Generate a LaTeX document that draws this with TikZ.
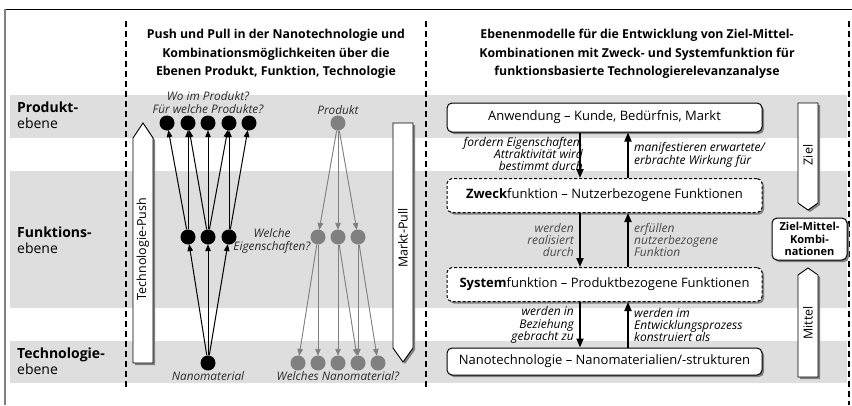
\documentclass[tikz,border=0pt]{standalone}
\usepackage{fontspec}
\setmainfont{Open Sans}
\usetikzlibrary{arrows.meta,shadows}
\definecolor{bandgray}{HTML}{DEDEDE}
\definecolor{dotgray}{HTML}{808080}
\definecolor{shadowgray}{HTML}{808080}
\definecolor{lblgray}{HTML}{2A2A2A}
\definecolor{midgray}{HTML}{4A4A4A}
\begin{document}
\begin{tikzpicture}[x=1pt,y=-1pt,
  dline/.style={line width=1.8pt,dash pattern=on 6pt off 4pt},
  lvl/.style={font=\fontsize{14}{16}\selectfont,align=left,anchor=west,inner sep=0pt},
  hdr/.style={font=\bfseries\fontsize{12.3}{18.5}\selectfont,align=center,inner sep=0pt},
  bdot/.style={circle,fill=black,minimum size=15pt,inner sep=0pt},
  gdot/.style={circle,fill=dotgray,minimum size=15pt,inner sep=0pt},
  barr/.style={-{Triangle[length=7pt,width=5.5pt]},line width=1pt,shorten >=-0.5pt},
  garr/.style={-{Triangle[length=7pt,width=5.5pt]},line width=0.9pt,draw=dotgray,fill=dotgray,shorten >=-0.5pt},
  lbl/.style={font=\itshape\fontsize{11.8}{12.5}\selectfont,text=lblgray,inner sep=0pt,align=center},
  blockarrow/.style={fill=white,draw=black,line width=0.9pt,drop shadow={shadow xshift=2pt,shadow yshift=-2pt,fill=shadowgray,opacity=1}},
  vtext/.style={rotate=90,font=\fontsize{12.5}{14}\selectfont,inner sep=0pt},
  box/.style={draw=black,line width=1pt,rounded corners=5pt,fill=white,minimum width=315pt,
     font=\fontsize{13}{15}\selectfont,inner sep=0pt,
     drop shadow={shadow xshift=2pt,shadow yshift=-2pt,fill=shadowgray,opacity=1}},
  dbox/.style={box,dash pattern=on 3pt off 2pt},
  bigarr/.style={-{Triangle[length=9pt,width=7pt]},line width=1.8pt},
  ilbl/.style={font=\itshape\fontsize{12}{12.4}\selectfont,inner sep=0pt},
  zmbox/.style={draw=black,line width=1pt,rounded corners=5pt,fill=white,minimum width=75pt,minimum height=42pt,
     font=\bfseries\fontsize{11}{12.5}\selectfont,align=center,inner sep=0pt,
     drop shadow={shadow xshift=2pt,shadow yshift=-2pt,fill=shadowgray,opacity=1}}
]
\useasboundingbox (0,0) rectangle (852,405);
% bands
\fill[bandgray] (10,95) rectangle (847,138);
\fill[bandgray] (10,171) rectangle (847,308);
\fill[bandgray] (10,341) rectangle (847,383);
% frame
\draw[line width=1pt] (5,9) -- (852,9);
\draw[shadowgray,line width=1.5pt] (5,9) -- (5,405);
% dashed separators
\draw[dline] (126,21) -- (126,389);
\draw[dline] (426,21) -- (426,389);
\draw[dline] (849,21) -- (849,405);
% level labels
\node[lvl] (lp) at (17,115.5) {\textbf{Produkt-}\\ebene};
\node[lvl] (lf) at (17,240) {\textbf{Funktions-}\\ebene};
\node[lvl] (lt) at (17,361) {\textbf{Technologie-}\\ebene};
% headers
\node[hdr] (h1) at (276,54) {Push und Pull in der Nanotechnologie und\\Kombinationsmöglichkeiten über die\\Ebenen Produkt, Funktion, Technologie};
\node[hdr] (h2) at (637,54) {Ebenenmodelle für die Entwicklung von Ziel-Mittel-\\Kombinationen mit Zweck- und Systemfunktion für\\funktionsbasierte Technologierelevanzanalyse};
% push block arrow
\path[blockarrow] (133,363) -- (153,363) -- (153,138) -- (143,123) -- (133,138) -- cycle;
\node[vtext] (tpush) at (143,249) {Technologie-Push};
% pull block arrow
\path[blockarrow] (393,123) -- (413,123) -- (413,348) -- (403,362) -- (393,348) -- cycle;
\node[vtext] (mpull) at (403,238) {Markt-Pull};
% push nodes
\node[bdot] (pt1) at (167,123) {};
\node[bdot] (pt2) at (188,123) {};
\node[bdot] (pt3) at (208,123) {};
\node[bdot] (pt4) at (229,123) {};
\node[bdot] (pt5) at (249,123) {};
\node[bdot] (pm1) at (188,237) {};
\node[bdot] (pm2) at (208,237) {};
\node[bdot] (pm3) at (229,237) {};
\node[bdot] (pb) at (208,363) {};
\draw[barr] (pb) -- (pm1);
\draw[barr] (pb) -- (pm2);
\draw[barr] (pb) -- (pm3);
\draw[barr] (pm1) -- (pt1);
\draw[barr] (pm1) -- (pt2);
\draw[barr] (pm2) -- (pt2);
\draw[barr] (pm2) -- (pt3);
\draw[barr] (pm2) -- (pt4);
\draw[barr] (pm3) -- (pt4);
\draw[barr] (pm3) -- (pt5);
% pull nodes
\node[gdot] (qt) at (338,123) {};
\node[gdot] (qm1) at (318,237) {};
\node[gdot] (qm2) at (338,237) {};
\node[gdot] (qm3) at (358,237) {};
\node[gdot] (qb1) at (298,363) {};
\node[gdot] (qb2) at (318,363) {};
\node[gdot] (qb3) at (338,363) {};
\node[gdot] (qb4) at (358,363) {};
\node[gdot] (qb5) at (378,363) {};
\draw[garr] (qt) -- (qm1);
\draw[garr] (qt) -- (qm2);
\draw[garr] (qt) -- (qm3);
\draw[garr] (qm1) -- (qb1);
\draw[garr] (qm1) -- (qb2);
\draw[garr] (qm2) -- (qb3);
\draw[garr] (qm2) -- (qb4);
\draw[garr] (qm3) -- (qb4);
\draw[garr] (qm3) -- (qb5);
% node labels
\node[lbl] (l1) at (208,96) {Wo im Produkt?};
\node[lbl] (l2) at (208,109) {Für welche Produkte?};
\node[lbl] (l3) at (338,110) {Produkt};
\node[lbl] (l4) at (272,241) {Welche\\Eigenschaften?};
\node[lbl] (l5) at (208,376) {Nanomaterial};
\node[lbl] (l6) at (338,376) {Welches Nanomaterial?};
% right boxes
\node[box,minimum height=29pt] (b1) at (604.5,117.5) {Anwendung – Kunde, Bedürfnis, Markt};
\node[dbox,minimum height=34pt] (b2) at (604.5,195.5) {\textbf{Zweck}funktion – Nutzerbezogene Funktionen};
\node[dbox,minimum height=34pt] (b3) at (604.5,284.5) {\textbf{System}funktion – Produktbezogene Funktionen};
\node[box,minimum height=27pt] (b4) at (604.5,361.5) {Nanotechnologie – Nanomaterialien/-strukturen};
\coordinate (xd) at (580,0);
\coordinate (xu) at (628,0);
\draw[bigarr] (b1.south -| xd) -- (b2.north -| xd);
\draw[bigarr] (b2.north -| xu) -- (b1.south -| xu);
\draw[bigarr] (b2.south -| xd) -- (b3.north -| xd);
\draw[bigarr] (b3.north -| xu) -- (b2.south -| xu);
\draw[bigarr] (b3.south -| xd) -- (b4.north -| xd);
\draw[bigarr] (b4.north -| xu) -- (b3.south -| xu);
% arrow labels
\node[ilbl,anchor=east,align=right] (a1) at (583,154) {fordern Eigenschaften,\\Attraktivität wird\\bestimmt durch};
\node[ilbl,anchor=west,align=left] (a2) at (634,155) {manifestieren erwartete/\\erbrachte Wirkung für};
\node[ilbl,anchor=east,align=right,text=midgray] (a3) at (574,240) {werden\\realisiert\\durch};
\node[ilbl,anchor=west,align=left,text=midgray] (a4) at (634,240) {erfüllen\\nutzerbezogene\\Funktion};
\node[ilbl,anchor=east,align=right] (a5) at (574,325) {werden in\\Beziehung\\gebracht zu};
\node[ilbl,anchor=west,align=left] (a6) at (634,325) {werden im\\Entwicklungsprozess\\konstruiert als};
% Ziel / Mittel
\path[blockarrow] (798,103) -- (818,103) -- (818,203) -- (808,210) -- (798,203) -- cycle;
\node[vtext] (ziel) at (808,155) {Ziel};
\node[zmbox] (zm) at (809.5,239) {Ziel-Mittel-\\Kombi-\\nationen};
\path[blockarrow] (798,377) -- (818,377) -- (818,275) -- (808,268) -- (798,275) -- cycle;
\node[vtext] (mittel) at (808,323) {Mittel};
\end{tikzpicture}
\end{document}
